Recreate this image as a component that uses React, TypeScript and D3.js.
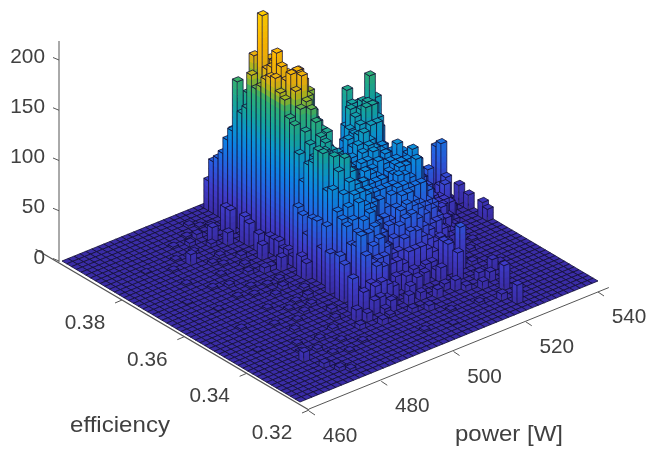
import React, { useMemo } from "react";
import * as d3 from "d3";

const WIDTH = 648;
const HEIGHT = 450;
const BINS = 50;

const zTicks = [0, 50, 100, 150, 200];
const powerTicks = [460, 480, 500, 520, 540];
const efficiencyTicks = [0.32, 0.34, 0.36, 0.38];

// [power bin, highest efficiency bin, counts going down the efficiency bins]
const rows: [number, number, number[]][] = [
  [22, 35, [12, 14, 16, 17, 12, 14, 10, 62, 57, 40, 59, 60, 35, 60, 30, 25, 20, 18, 12, 14, 9, 6]],
  [23, 48, [30, 52, 58, 66, 82, 94, 146, 117, 125, 161, 150, 155, 165, 170, 172, 160, 156, 140, 136, 110, 85, 105, 110, 125, 125, 90, 94, 75, 70, 66, 50, 52, 65, 48, 35, 23, 15, 6, 3]],
  [24, 48, [45, 50, 60, 75, 90, 120, 125, 135, 140, 150, 165, 170, 175, 192, 181, 170, 179, 165, 150, 130, 120, 110, 115, 122, 118, 122, 110, 90, 80, 70, 60, 50, 40, 35, 38, 25, 12]],
  [25, 43, [110, 120, 170, 150, 160, 160, 170, 165, 170, 172, 174, 180, 178, 155, 150, 140, 128, 125, 115, 115, 118, 121, 100, 90, 85, 70, 60, 50, 40, 35, 20, 8]],
  [26, 41, [120, 150, 170, 170, 160, 160, 165, 165, 175, 168, 155, 143, 135, 130, 130, 115, 110, 110, 110, 105, 95, 90, 80, 75, 64, 55, 40]],
  [27, 39, [120, 130, 140, 140, 145, 150, 150, 155, 130, 115, 100, 110, 105, 110, 105, 100, 100, 90, 85, 85, 75, 60, 50, 44]],
  [28, 35, [110, 110, 120, 100, 95, 90, 80, 85, 80, 85, 90, 95, 85, 90, 85, 75, 60, 50, 40, 25, 15]],
  [29, 33, [70, 80, 75, 70, 85, 90, 90, 68, 85, 80, 85, 75, 70, 55, 45, 35, 30, 25, 14, 16]],
  [30, 32, [60, 65, 70, 78, 80, 85, 80, 85, 90, 80, 75, 70, 55, 50, 40, 30, 20]],
  [31, 33, [40, 60, 70, 80, 87, 90, 85, 90, 85, 85, 80, 75, 60, 50, 45, 50, 40, 30, 15]],
  [32, 32, [55, 85, 100, 95, 100, 95, 90, 85, 80, 80, 75, 70, 60, 60, 55, 45, 30, 21, 12]],
  [33, 33, [50, 90, 105, 103, 105, 110, 100, 97, 90, 75, 70, 75, 75, 70, 64, 57, 43, 30, 15]],
  [34, 34, [40, 100, 120, 115, 110, 94, 100, 95, 85, 85, 80, 80, 82, 75, 70, 60, 50, 35, 25, 15, 10, 15]],
  [35, 35, [30, 131, 120, 115, 120, 125, 110, 90, 90, 90, 85, 85, 85, 80, 70, 60, 55, 40, 30, 20]],
  [36, 33, [118, 123, 125, 125, 110, 90, 85, 80, 85, 85, 84, 75, 70, 55, 47, 34, 25, 15, 8, 31]],
  [37, 33, [100, 110, 120, 110, 85, 75, 85, 95, 80, 85, 85, 91, 70, 50, 35, 25, 27]],
  [38, 34, [90, 141, 100, 95, 55, 60, 70, 75, 85, 85, 93, 85, 62, 50, 45, 35, 20]],
  [39, 34, [50, 117, 70, 40, 45, 60, 65, 70, 70, 75, 70, 55, 55, 45, 35, 25, 15]],
  [40, 33, [30, 15, 20, 41, 51, 56, 56, 56, 46, 46, 41, 30, 20, 15]],
  [41, 30, [26, 31, 46, 46, 51, 36, 31, 25, 20, 15, 10]],
  [42, 30, [15, 25, 36, 46, 41, 26, 25, 28, 20, 10]],
  [43, 29, [25, 31, 52, 28, 25, 25, 15, 8]],
  [44, 29, [20, 25, 20, 25, 25, 12, 6]],
  [45, 30, [8, 10, 25, 31, 35, 20, 6]],
  [46, 29, [62, 68, 37, 12]],
  [47, 29, [12, 8, 5]],
];

// [power bin, efficiency bin, count]: isolated bars in front of the main mass
const frontBars: [number, number, number][] = [
  [24, 38, 221],
  [49, 28, 19], [49, 26, 15], [49, 23, 16], [49, 22, 12], [38, 14, 43], [36, 15, 31], [36, 12, 28],
  [39, 6, 25], [38, 2, 19], [41, 11, 12], [39, 9, 10], [38, 10, 9], [37, 8, 8], [37, 4, 7], [34, 10, 11],
  [32, 15, 12], [21, 20, 41], [21, 18, 44], [21, 17, 38], [24, 15, 38], [20, 14, 35], [23, 14, 23], [21, 13, 22],
  [21, 42, 25], [21, 41, 25], [21, 38, 27], [21, 37, 23], [22, 34, 16], [21, 35, 18], [22, 32, 17], [20, 33, 15],
  [19, 39, 13], [18, 41, 15], [17, 43, 5], [12, 38, 11], [20, 29, 14], [21, 26, 21], [21, 25, 17], [18, 30, 6],
  [7, 8, 10], [8, 5, 5], [9, 3, 4], [10, 2, 3],
  [22, 12, 14], [24, 11, 12], [26, 13, 16], [27, 11, 10], [28, 12, 14], [29, 11, 8], [30, 13, 15], [31, 10, 9],
  [33, 11, 7], [35, 9, 6], [26, 9, 5], [28, 8, 6], [20, 11, 9], [19, 12, 12], [18, 10, 5], [21, 9, 6],
];

// [power bin, efficiency bin, count]: low counts scattered over the floor
const floorSpecks: [number, number, number][] = [
  [20, 44, 3], [19, 45, 2], [18, 46, 3], [16, 44, 2], [15, 42, 4], [14, 40, 3], [13, 43, 2], [17, 40, 4],
  [16, 37, 3], [15, 35, 2], [14, 36, 3], [13, 33, 2], [18, 35, 4], [17, 33, 3], [16, 31, 4], [19, 30, 5],
  [18, 27, 3], [17, 25, 4], [16, 27, 2], [15, 24, 3], [14, 28, 2], [13, 26, 2], [12, 30, 3], [11, 27, 2],
  [19, 23, 3], [18, 21, 4], [17, 19, 3], [16, 21, 2], [15, 18, 3], [14, 20, 2], [13, 17, 2], [12, 22, 2],
  [11, 15, 3], [10, 18, 2], [9, 12, 2], [10, 9, 3], [8, 10, 2], [11, 7, 2], [12, 11, 3], [13, 6, 2],
  [14, 9, 2], [15, 12, 3], [16, 7, 2], [17, 14, 3], [18, 16, 4], [6, 20, 2], [5, 30, 1], [8, 34, 2],
  [7, 26, 1], [4, 14, 1], [9, 38, 2], [11, 40, 2], [10, 31, 2], [6, 40, 1], [24, 4, 2], [28, 3, 1],
  [30, 6, 2], [34, 5, 3], [40, 14, 4], [42, 17, 3], [44, 19, 2], [43, 12, 2],
];

const colorStops = [0, 25, 50, 80, 100, 120, 145, 156, 168, 190, 225];
const colorValues = ["#3a2ca6", "#3f3bc8", "#2a5ce0", "#0e80e4", "#0b96d0", "#14a5a0", "#30b070", "#a0b820", "#e8b010", "#ffb800", "#ffd000"];

const color = d3.scaleLinear<string>().domain(colorStops).range(colorValues).interpolate(d3.interpolateRgb).clamp(true);

// floor geometry, in power bins and efficiency bins
const floorX = (i: number, j: number) => 300 + 5.96 * i - 4.76 * j;
const floorY = (i: number, j: number) => 402 - 2.42 * i - 2.82 * j;
const zScale = d3.scaleLinear().domain([0, 200]).range([0, 200]);

const poly = (pts: [number, number][]) => (d3.line()(pts) as string) + "Z";
const pt = (i: number, j: number, z: number): [number, number] => [floorX(i, j), floorY(i, j) - zScale(z)];

const powerAxisX = d3.scaleLinear().domain([460, 540]).range([309, 598]);
const powerAxisY = d3.scaleLinear().domain([460, 540]).range([411, 292]);
const effAxisX = d3.scaleLinear().domain([0.32, 0.38]).range([309, 122]);
const effAxisY = d3.scaleLinear().domain([0.32, 0.38]).range([410, 300]);
const zAxisY = d3.scaleLinear().domain([0, 200]).range([261, 60]);

const FONT = "'Liberation Sans', Arial, sans-serif";
const TEXT = "#404040";
const AXIS = "#555555";
const EDGE = "#120e34";

function buildHeights() {
  const h = d3.range(BINS).map(() => new Array(BINS).fill(0) as number[]);
  for (const [i, j, c] of floorSpecks) h[i][j] = c;
  for (const [i, j0, vals] of rows) vals.forEach((v, k) => { if (j0 - k >= 0) h[i][j0 - k] = v; });
  for (const [i, j, c] of frontBars) h[i][j] = c;
  return h;
}

function Bars() {
  const cells = useMemo(() => {
    const h = buildHeights();
    const out: React.ReactNode[] = [];
    const BAND = 6;
    for (let i = BINS - 1; i >= 0; i--) {
      for (let j = BINS - 1; j >= 0; j--) {
        const z = h[i][j];
        const key = `${i}-${j}`;
        if (z > 0) {
          const bands = d3.range(0, z, BAND);
          bands.forEach((z0) => {
            const z1 = Math.min(z, z0 + BAND + 0.7);
            const mid = (z0 + Math.min(z, z0 + BAND)) / 2;
            const c = color(mid);
            out.push(
              <path key={`l${key}-${z0}`} d={poly([pt(i, j, z0), pt(i, j + 1, z0), pt(i, j + 1, z1), pt(i, j, z1)])} fill={c} />,
              <path key={`r${key}-${z0}`} d={poly([pt(i, j, z0), pt(i + 1, j, z0), pt(i + 1, j, z1), pt(i, j, z1)])} fill={d3.color(c)!.darker(0.12).formatHex()} />
            );
          });
          out.push(
            <path
              key={`o${key}`}
              d={poly([pt(i, j + 1, z), pt(i, j + 1, 0), pt(i, j, 0), pt(i + 1, j, 0), pt(i + 1, j, z), pt(i, j, z)]) + (d3.line()([pt(i, j, 0), pt(i, j, z)]) as string)}
              fill="none"
              stroke={EDGE}
              strokeWidth={0.8}
              strokeOpacity={0.9}
            />
          );
        }
        out.push(
          <path
            key={`t${key}`}
            d={poly([pt(i, j, z), pt(i + 1, j, z), pt(i + 1, j + 1, z), pt(i, j + 1, z)])}
            fill={color(z)}
            stroke={EDGE}
            strokeWidth={0.85}
            strokeOpacity={0.95}
          />
        );
      }
    }
    return out;
  }, []);
  return <g>{cells}</g>;
}

export default function App() {
  const labelStyle = { fontFamily: FONT, fontSize: 20.8, fill: TEXT } as const;
  const titleStyle = { fontFamily: FONT, fontSize: 22.5, fill: TEXT } as const;
  return (
    <svg width={WIDTH} height={HEIGHT} viewBox={`0 0 ${WIDTH} ${HEIGHT}`} style={{ position: "absolute", left: 0, top: 0, background: "#fff" }}>
      <g style={{ filter: "blur(0.35px)" }}>
        <line x1={59} y1={41} x2={59} y2={262} stroke={AXIS} strokeWidth={1} />
        <line x1={effAxisX(0.4077)} y1={effAxisY(0.4077)} x2={effAxisX(0.32)} y2={effAxisY(0.32)} stroke={AXIS} strokeWidth={1.2} />
        <line x1={powerAxisX(460)} y1={powerAxisY(460) - 2} x2={powerAxisX(543)} y2={powerAxisY(543)} stroke={AXIS} strokeWidth={1} />
        {zTicks.map((t) => (
          <g key={t}>
            <line x1={53} y1={zAxisY(t) - 2.5} x2={59} y2={zAxisY(t)} stroke={AXIS} strokeWidth={1} />
            <text x={45} y={zAxisY(t) + 2.5} textAnchor="end" style={labelStyle}>{t}</text>
          </g>
        ))}
        {efficiencyTicks.map((t) => (
          <g key={t}>
            <line x1={effAxisX(t)} y1={effAxisY(t)} x2={effAxisX(t) - 7} y2={effAxisY(t) + 3} stroke={AXIS} strokeWidth={1} />
            <text x={effAxisX(t) - 37} y={effAxisY(t) + 29} textAnchor="middle" style={labelStyle}>{t.toFixed(2)}</text>
          </g>
        ))}
        {powerTicks.map((t) => (
          <g key={t}>
            <line x1={powerAxisX(t)} y1={powerAxisY(t)} x2={powerAxisX(t) + 6} y2={powerAxisY(t) + 4} stroke={AXIS} strokeWidth={1} />
            <text x={powerAxisX(t) + 31} y={powerAxisY(t) + 31} textAnchor="middle" style={labelStyle}>{t}</text>
          </g>
        ))}
        <text x={120} y={432} textAnchor="middle" style={titleStyle} textLength={100} lengthAdjust="spacingAndGlyphs">efficiency</text>
        <text x={509} y={441} textAnchor="middle" style={titleStyle} textLength={108} lengthAdjust="spacingAndGlyphs">power [W]</text>
        <Bars />
      </g>
    </svg>
  );
}
